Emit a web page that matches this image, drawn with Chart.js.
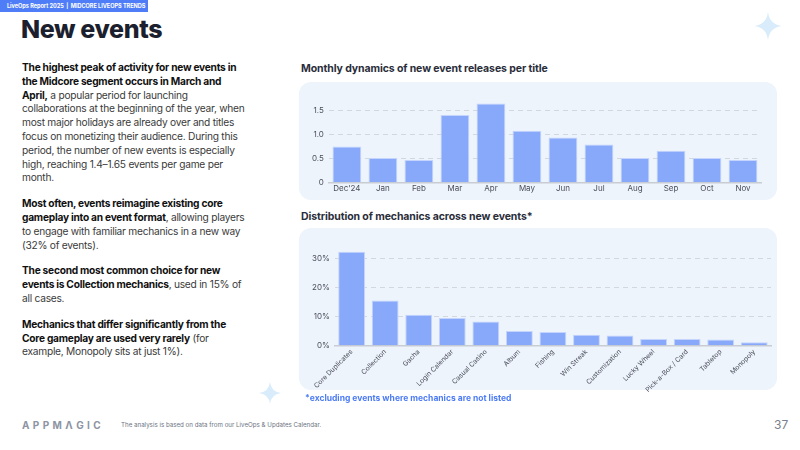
<!DOCTYPE html>
<html lang="en">
<head>
<meta charset="UTF-8">
<title>New events</title>
<script src="https://cdn.jsdelivr.net/npm/chart.js"></script>
<style>
  html, body { margin: 0; padding: 0; background: #fff; }
  body { width: 800px; height: 450px; position: relative; overflow: hidden; font-family: Inter, "Noto Sans", sans-serif; color: #1c1f2e; }
  .banner { position: absolute; left: 0; top: 0; width: 148px; height: 12px; background: #4f7df7; color: #fff; font-size: 5.6px; font-weight: 700; line-height: 12px; padding-left: 7px; box-sizing: border-box; white-space: nowrap; letter-spacing: -0.05px; }
  h1 { position: absolute; left: 21px; top: 14px; margin: 0; font-size: 25px; font-weight: 800; letter-spacing: -0.4px; color: #1c1f2e; }
  .text { position: absolute; left: 22px; top: 61px; width: 226px; font-size: 10.2px; line-height: 13.8px; color: #3a3a3a; letter-spacing: -0.25px; }
  .text p { margin: 0 0 12px 0; }
  .text b { color: #111; font-weight: 700; }
  .ctitle { position: absolute; left: 301px; font-size: 10.5px; font-weight: 700; color: #2a2d3a; letter-spacing: -0.1px; }
  .panel { position: absolute; left: 299px; width: 478px; background: #eef4fc; border-radius: 12px; }
  .panel canvas { position: absolute; }
  .note { position: absolute; left: 305px; top: 393px; font-size: 8.5px; font-weight: 700; color: #4d7cf5; }
  .logo { position: absolute; left: 22px; top: 419px; font-size: 10px; font-weight: 700; letter-spacing: 3.4px; color: #8d94a3; }
  .foot { position: absolute; left: 121px; top: 421px; font-size: 6.2px; color: #6d7382; }
  .page { position: absolute; left: 774px; top: 417px; font-size: 12px; color: #7a808d; }
  .star { position: absolute; }
</style>
</head>
<body>
<div class="banner">LiveOps Report 2025 &nbsp;|&nbsp; MIDCORE LIVEOPS TRENDS</div>
<h1>New events</h1>

<svg class="star" style="left:754px;top:12px" width="28" height="28" viewBox="0 0 28 28"><path d="M14 0 Q15.5 12.5 28 14 Q15.5 15.5 14 28 Q12.5 15.5 0 14 Q12.5 12.5 14 0Z" fill="#d9ecfb"/></svg>
<svg class="star" style="left:259px;top:382px" width="22" height="22" viewBox="0 0 28 28"><path d="M14 0 Q15.5 12.5 28 14 Q15.5 15.5 14 28 Q12.5 15.5 0 14 Q12.5 12.5 14 0Z" fill="#d9ecfb"/></svg>

<div class="text">
  <p><b>The highest peak of activity for new events in the Midcore segment occurs in March and April,</b> a popular period for launching collaborations at the beginning of the year, when most major holidays are already over and titles focus on monetizing their audience. During this period, the number of new events is especially high, reaching 1.4–1.65 events per game per month.</p>
  <p><b>Most often, events reimagine existing core gameplay into an event format</b>, allowing players to engage with familiar mechanics in a new way (32% of events).</p>
  <p><b>The second most common choice for new events is Collection mechanics</b>, used in 15% of all cases.</p>
  <p><b>Mechanics that differ significantly from the Core gameplay are used very rarely</b> (for example, Monopoly sits at just 1%).</p>
</div>

<div class="ctitle" style="top:62px">Monthly dynamics of new event releases per title</div>
<div class="panel" style="top:82px;height:118px">
  <canvas id="c1" style="left:0;top:5px" width="470" height="107"></canvas>
</div>

<div class="ctitle" style="top:210px">Distribution of mechanics across new events*</div>
<div class="panel" style="top:228px;height:162px">
  <canvas id="c2" style="left:0;top:5px" width="476" height="163"></canvas>
</div>
<div class="note">*excluding events where mechanics are not listed</div>

<div class="logo">APPM&Lambda;GIC</div>
<div class="foot">The analysis is based on data from our LiveOps &amp; Updates Calendar.</div>
<div class="page">37</div>

<script>
// data
const months = ['Dec\'24', 'Jan', 'Feb', 'Mar', 'Apr', 'May', 'Jun', 'Jul', 'Aug', 'Sep', 'Oct', 'Nov'];
const eventsPerTitle = [0.75, 0.51, 0.47, 1.41, 1.65, 1.08, 0.94, 0.79, 0.51, 0.66, 0.51, 0.47];

const mechanics = ['Core Duplicates', 'Collection', 'Gacha', 'Login Calendar', 'Casual Casino', 'Album', 'Fishing',
  'Win Streak', 'Customization', 'Lucky Wheel', 'Pick-a-Box / Card', 'Tabletop', 'Monopoly'];
const mechanicsShare = [32.4, 15.6, 10.7, 9.6, 8.4, 5.1, 4.8, 3.8, 3.6, 2.4, 2.4, 2.2, 1.2];

const barColor = '#88a9fa';
const gridColor = '#d3d7de';
const tickColor = '#4a4e5a';

Chart.defaults.font.family = 'Inter, "Noto Sans", sans-serif';
Chart.defaults.animation = false;

const makeChart = (el, labels, values, opts) => {
  return new Chart(el, {
    type: 'bar',
    data: {
      labels: labels,
      datasets: [{
        data: values,
        backgroundColor: barColor,
        borderColor: '#c4d4fc',
        borderWidth: 1,
        barPercentage: 0.8,
        categoryPercentage: 1
      }]
    },
    options: {
      responsive: false,
      layout: { padding: opts.padding },
      plugins: { legend: { display: false }, tooltip: { enabled: false } },
      scales: {
        x: {
          grid: { display: false, drawTicks: false },
          border: { color: '#c8ccd3', width: 1.5 },
          ticks: { color: tickColor, font: { size: opts.xSize }, padding: opts.xPad, autoSkip: false, maxRotation: opts.rot, minRotation: opts.rot }
        },
        y: {
          min: 0,
          max: opts.max,
          afterBuildTicks: s => { s.ticks = s.ticks.filter(t => opts.ticks.includes(t.value)); },
          grid: {
            color: ctx => ctx.tick && ctx.tick.value === 0 ? 'rgba(0,0,0,0)' : gridColor,
            lineWidth: 1,
            drawTicks: false
          },
          border: { display: false, dash: [5, 4] },
          ticks: { color: tickColor, font: { size: 8 }, padding: 5, callback: opts.fmt }
        }
      }
    }
  });
};

makeChart(document.getElementById('c1'), months, eventsPerTitle, {
  max: 1.79, ticks: [0, 0.5, 1, 1.5], xSize: 8, rot: 0, xPad: 1,
  padding: { left: 8, right: 8, top: 0, bottom: 0 },
  fmt: v => v === 0 ? '0' : v.toFixed(1)
});

makeChart(document.getElementById('c2'), mechanics, mechanicsShare, {
  max: 35.5, ticks: [0, 10, 20, 30], xSize: 6.8, rot: 45, xPad: 2,
  padding: { left: 8, right: 4, top: 0, bottom: 0 },
  fmt: v => v + '%'
});
</script>
</body>
</html>
